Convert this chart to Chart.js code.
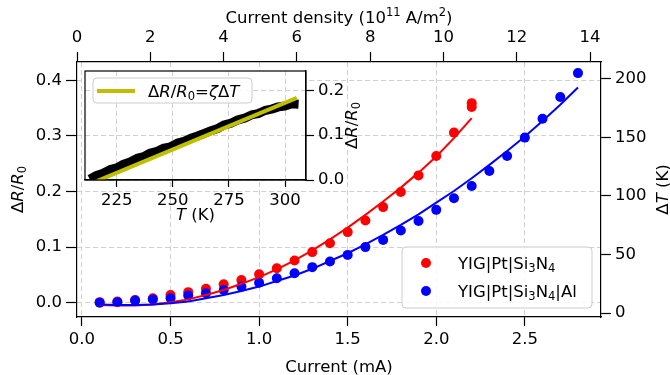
<!DOCTYPE html>
<html>
<head>
<meta charset="utf-8">
<script src="https://cdn.jsdelivr.net/npm/chart.js@4"></script>
<style>
  body { margin: 0; background: #fff; }
  #wrap { position: relative; width: 670px; height: 375px; }
  #wrap canvas { position: absolute; left: 0; top: 0; }
</style>
</head>
<body>
<div id="wrap">
  <canvas id="mainChart" width="670" height="375"></canvas>
  <canvas id="insetChart" width="670" height="375"></canvas>
</div>
<script>
// measured points (current in mA, dR/R0)
const currentRed = [0.1, 0.2, 0.3, 0.4, 0.5, 0.6, 0.7, 0.8, 0.9, 1.0, 1.1, 1.2, 1.3, 1.4, 1.5, 1.6, 1.7, 1.8, 1.9, 2.0, 2.1, 2.2, 2.2];
const drRed = [0.001, 0.002, 0.005, 0.008, 0.014, 0.019, 0.025, 0.033, 0.041, 0.051, 0.062, 0.076, 0.091, 0.107, 0.127, 0.148, 0.172, 0.199, 0.229, 0.264, 0.306, 0.352, 0.359];
const currentBlue = [0.1, 0.2, 0.3, 0.4, 0.5, 0.6, 0.7, 0.8, 0.9, 1.0, 1.1, 1.2, 1.3, 1.4, 1.5, 1.6, 1.7, 1.8, 1.9, 2.0, 2.1, 2.2, 2.3, 2.4, 2.5, 2.6, 2.7, 2.8];
const drBlue = [0.000, 0.001, 0.004, 0.006, 0.008, 0.013, 0.017, 0.023, 0.029, 0.036, 0.044, 0.053, 0.064, 0.074, 0.086, 0.100, 0.113, 0.130, 0.147, 0.167, 0.188, 0.210, 0.237, 0.264, 0.297, 0.331, 0.370, 0.413];

// fit curves
const fitCurrentRed = [0.1, 0.2, 0.3, 0.4, 0.5, 0.6, 0.7, 0.8, 0.9, 1.0, 1.1, 1.2, 1.3, 1.4, 1.5, 1.6, 1.7, 1.8, 1.9, 2.0, 2.1, 2.2];
const fitRed = [-0.004, -0.005, -0.005, -0.003, 0.001, 0.006, 0.014, 0.023, 0.034, 0.046, 0.060, 0.076, 0.094, 0.114, 0.135, 0.158, 0.182, 0.207, 0.234, 0.263, 0.296, 0.332];
const fitCurrentBlue = [0.1, 0.2, 0.3, 0.4, 0.5, 0.6, 0.7, 0.8, 0.9, 1.0, 1.1, 1.2, 1.3, 1.4, 1.5, 1.6, 1.7, 1.8, 1.9, 2.0, 2.1, 2.2, 2.3, 2.4, 2.5, 2.6, 2.7, 2.8];
const fitBlue = [-0.003, -0.004, -0.004, -0.003, -0.001, 0.002, 0.008, 0.014, 0.021, 0.029, 0.039, 0.049, 0.061, 0.075, 0.089, 0.105, 0.122, 0.140, 0.159, 0.180, 0.201, 0.224, 0.248, 0.273, 0.299, 0.327, 0.356, 0.387];

// inset: dR/R0 vs T
const insetT = [213, 216, 219, 222, 225, 228, 231, 234, 237, 240, 243, 246, 249, 252, 255, 258, 261, 264, 267, 270, 273, 276, 279, 282, 285, 288, 291, 294, 297, 300, 303, 306];
const insetDR = [0.002, 0.010, 0.015, 0.023, 0.027, 0.035, 0.040, 0.048, 0.052, 0.060, 0.064, 0.071, 0.074, 0.082, 0.086, 0.093, 0.098, 0.104, 0.110, 0.115, 0.123, 0.127, 0.134, 0.138, 0.145, 0.148, 0.155, 0.158, 0.163, 0.165, 0.170, 0.169];
const lineT = [215.4, 305.2];
const lineDR = [-0.004, 0.183];

// text pieces: '' plain, 'i' italic, '_' subscript, '^' superscript
const xTitle = [['Current (mA)', '']];
const topTitle = [['Current density (10', ''], ['11', '^'], [' A/m', ''], ['2', '^'], [')', '']];
const yTitle = [['Δ', ''], ['R', 'i'], ['/', ''], ['R', 'i'], ['0', '_']];
const rightTitle = [['Δ', ''], ['T', 'i'], [' (K)', '']];
const insetXTitle = [['T', 'i'], [' (K)', '']];
const seriesNames = [
  [['YIG|Pt|Si', ''], ['3', '_'], ['N', ''], ['4', '_']],
  [['YIG|Pt|Si', ''], ['3', '_'], ['N', ''], ['4', '_'], ['|Al', '']]
];
const fitName = [['Δ', ''], ['R', 'i'], ['/', ''], ['R', 'i'], ['0', '_'], ['=', ''], ['ζ', 'i'], ['Δ', ''], ['T', 'i']];

const FS = 16.5;
const FONT = 'DejaVu Sans';
const gridGray = '#d0d0d0';

function drawRich(ctx, parts, x, y, align, rot) {
  ctx.save();
  ctx.translate(x, y);
  if (rot) ctx.rotate(rot);
  ctx.fillStyle = '#000';
  ctx.textBaseline = 'alphabetic';
  ctx.textAlign = 'left';
  const fontOf = p => (p[1] === 'i' ? 'italic ' : '') + ((p[1] === '_' || p[1] === '^') ? FS * 0.7 : FS) + 'px "' + FONT + '"';
  let w = 0;
  parts.forEach(p => { ctx.font = fontOf(p); w += ctx.measureText(p[0]).width; });
  let cx = align === 'left' ? 0 : -w / 2;
  parts.forEach(p => {
    ctx.font = fontOf(p);
    const dy = p[1] === '_' ? FS * 0.2 : p[1] === '^' ? -FS * 0.4 : 0;
    ctx.fillText(p[0], cx, FS * 0.36 + dy);
    cx += ctx.measureText(p[0]).width;
  });
  ctx.restore();
}

function roundBox(ctx, x1, y1, x2, y2) {
  ctx.save();
  ctx.beginPath();
  ctx.roundRect(x1, y1, x2 - x1, y2 - y1, 4);
  ctx.fillStyle = 'rgba(255,255,255,0.8)';
  ctx.fill();
  ctx.strokeStyle = '#cccccc';
  ctx.lineWidth = 1;
  ctx.stroke();
  ctx.restore();
}

function pts(xs, ys) {
  return xs.map((v, i) => ({x: v, y: ys[i]}));
}

const tickFont = {family: FONT, size: FS};

function axis(pos, min, max, step, fmt, size, onArea, tickLen) {
  return {
    type: 'linear', position: pos, min: min, max: max,
    ticks: {stepSize: step, includeBounds: false, autoSkip: false, maxRotation: 0,
      color: '#000', font: tickFont, padding: 4, callback: fmt},
    grid: {drawOnChartArea: onArea, color: gridGray, lineWidth: 1,
      tickColor: '#000', tickLength: tickLen, tickWidth: 1.2},
    border: {color: '#000', width: 1.2, dash: [5, 3]},
    afterFit: s => { if (pos === 'left' || pos === 'right') s.width = size; else s.height = size; }
  };
}

const mainDecor = {
  id: 'mainDecor',
  beforeDraw(chart) {
    const ctx = chart.ctx;
    ctx.save();
    ctx.fillStyle = '#fff';
    ctx.fillRect(0, 0, chart.width, chart.height);
    ctx.restore();
  },
  afterDraw(chart) {
    const ctx = chart.ctx;
    const a = chart.chartArea;
    const cx = (a.left + a.right) / 2, cy = (a.top + a.bottom) / 2;
    drawRich(ctx, xTitle, cx, 366);
    drawRich(ctx, topTitle, cx, 17);
    drawRich(ctx, yTitle, 17, cy, 'center', -Math.PI / 2);
    drawRich(ctx, rightTitle, 662, cy, 'center', -Math.PI / 2);

    // legend
    roundBox(ctx, 402, 247, 592, 308);
    const colors = ['#ff0000', '#0000ff'];
    [263, 291].forEach((yy, i) => {
      ctx.save();
      ctx.beginPath();
      ctx.arc(426, yy, 5, 0, Math.PI * 2);
      ctx.fillStyle = colors[i];
      ctx.fill();
      ctx.restore();
      drawRich(ctx, seriesNames[i], 458, yy, 'left');
    });
  }
};

new Chart(document.getElementById('mainChart'), {
  type: 'scatter',
  data: {
    datasets: [
      {data: pts(fitCurrentBlue, fitBlue), showLine: true, borderColor: '#0000ff', borderWidth: 2, pointRadius: 0, order: 0},
      {data: pts(fitCurrentRed, fitRed), showLine: true, borderColor: '#ff0000', borderWidth: 2, pointRadius: 0, order: 1},
      {data: pts(currentBlue, drBlue), showLine: false, pointRadius: 5, pointBorderWidth: 0, pointBackgroundColor: '#0000ff', order: 2},
      {data: pts(currentRed, drRed), showLine: false, pointRadius: 5, pointBorderWidth: 0, pointBackgroundColor: '#ff0000', order: 3}
    ]
  },
  options: {
    responsive: false,
    animation: false,
    devicePixelRatio: 1,
    events: [],
    layout: {padding: 0},
    plugins: {legend: {display: false}, tooltip: {enabled: false}},
    scales: {
      x: axis('bottom', -0.028, 2.93, 0.5, v => v.toFixed(1), 58, true, 9),
      x2: axis('top', 0, 14.3, 2, v => String(v), 62, false, 10),
      y: axis('left', -0.0257, 0.433, 0.1, v => v.toFixed(1), 77, true, 11),
      y2: axis('right', -3.4, 214.5, 50, v => String(v), 69, false, 10)
    }
  },
  plugins: [mainDecor]
});

const insetDecor = {
  id: 'insetDecor',
  beforeDraw(chart) {
    const a = chart.chartArea;
    const ctx = chart.ctx;
    ctx.save();
    ctx.fillStyle = '#fff';
    ctx.fillRect(a.left, a.top, a.right - a.left, a.bottom - a.top);
    ctx.restore();
  },
  afterDraw(chart) {
    const a = chart.chartArea;
    const ctx = chart.ctx;
    ctx.save();
    ctx.strokeStyle = '#000';
    ctx.lineWidth = 1.2;
    ctx.strokeRect(a.left, a.top, a.right - a.left, a.bottom - a.top);
    ctx.restore();
    drawRich(ctx, insetXTitle, (a.left + a.right) / 2, 214);
    drawRich(ctx, yTitle, 351, (a.top + a.bottom) / 2, 'center', -Math.PI / 2);

    roundBox(ctx, 93, 78, 252, 103);
    ctx.save();
    ctx.strokeStyle = '#bfbf00';
    ctx.lineWidth = 4;
    ctx.beginPath();
    ctx.moveTo(97, 91);
    ctx.lineTo(135, 91);
    ctx.stroke();
    ctx.restore();
    drawRich(ctx, fitName, 148, 91, 'left');
  }
};

new Chart(document.getElementById('insetChart'), {
  type: 'scatter',
  data: {
    datasets: [
      {data: pts(lineT, lineDR), showLine: true, borderColor: '#bfbf00', borderWidth: 4, pointRadius: 0, clip: 0, order: 0},
      {data: pts(insetT, insetDR), showLine: true, borderColor: '#000', borderWidth: 9, borderJoinStyle: 'bevel', pointRadius: 0, clip: 0, order: 1}
    ]
  },
  options: {
    responsive: false,
    animation: false,
    devicePixelRatio: 1,
    events: [],
    layout: {padding: {left: 85, top: 71, right: 0, bottom: 0}},
    plugins: {legend: {display: false}, tooltip: {enabled: false}},
    scales: {
      x: axis('bottom', 210.9, 309.3, 25, v => String(v), 195, true, 7),
      y: axis('right', 0, 0.243, 0.1, v => v.toFixed(1), 364, true, 8)
    }
  },
  plugins: [insetDecor]
});
</script>
</body>
</html>
